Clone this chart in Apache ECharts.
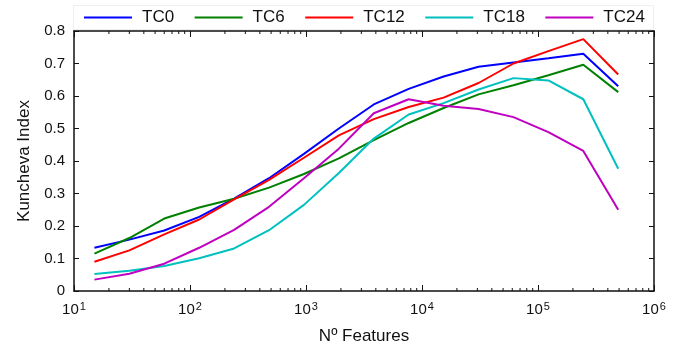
<!DOCTYPE html>
<html>
<head>
<meta charset="utf-8">
<script src="https://cdn.jsdelivr.net/npm/echarts@6/dist/echarts.min.js"></script>
<style>
  html, body { margin: 0; padding: 0; background: #fff; }
  #chart { width: 683px; height: 350px; }
</style>
</head>
<body>
<div id="chart"></div>
<script>
// feature counts (x) and Kuncheva index per time window
const features = [15, 30, 60, 120, 240, 480, 960, 1920, 3840, 7680, 15360, 30720, 61440, 122880, 245760, 491520];
const tc0  = [0.133, 0.158, 0.186, 0.228, 0.284, 0.347, 0.422, 0.500, 0.574, 0.622, 0.660, 0.690, 0.703, 0.716, 0.730, 0.630];
const tc6  = [0.115, 0.163, 0.223, 0.257, 0.284, 0.318, 0.360, 0.408, 0.464, 0.517, 0.563, 0.605, 0.633, 0.664, 0.696, 0.612];
const tc12 = [0.090, 0.125, 0.174, 0.220, 0.282, 0.342, 0.410, 0.479, 0.529, 0.566, 0.595, 0.640, 0.700, 0.738, 0.775, 0.666];
const tc18 = [0.052, 0.062, 0.077, 0.101, 0.131, 0.187, 0.265, 0.363, 0.469, 0.543, 0.578, 0.620, 0.655, 0.648, 0.590, 0.376];
const tc24 = [0.035, 0.053, 0.084, 0.133, 0.188, 0.259, 0.347, 0.438, 0.547, 0.590, 0.570, 0.560, 0.535, 0.489, 0.431, 0.250];
const seriesNames = ["TC0", "TC6", "TC12", "TC18", "TC24"];
const seriesValues = [tc0, tc6, tc12, tc18, tc24];
const colors = ["#0000ff", "#008000", "#ff0000", "#00c0c0", "#c000c0"];
const yTicks = [0, 0.1, 0.2, 0.3, 0.4, 0.5, 0.6, 0.7, 0.8];

const font = "Liberation Sans, Arial, sans-serif";

// minor ticks of the log axis: 2..9 x 10^k
const minorTicks = [];
for (let k = 1; k < 6; k++) {
  for (let m = 2; m <= 9; m++) minorTicks.push([m * Math.pow(10, k), 0]);
}

const chart = echarts.init(document.getElementById("chart"), null, { renderer: "canvas" });

const frameLine = { show: true, onZero: false, lineStyle: { color: "#111", width: 1.5 } };

chart.setOption({
  animation: false,
  textStyle: { fontFamily: font },
  color: colors,
  grid: { left: 74, right: 29, top: 31, bottom: 55 },
  graphic: [{
    type: "rect",
    left: 73, top: 5,
    shape: { width: 580, height: 24 },
    style: { fill: "#fff", stroke: "#eeeeee", lineWidth: 1 },
    z: 0
  }],
  legend: {
    data: seriesNames,
    left: 79,
    top: 4,
    itemWidth: 48,
    itemHeight: 16,
    itemGap: 20.5,
    icon: "path://M0,7 L48,7 L48,9 L0,9 Z",
    textStyle: { fontSize: 17, color: "#111", fontFamily: font, width: 45, padding: [0, 0, 0, 5] }
  },
  xAxis: [{
    type: "log",
    logBase: 10,
    min: 10,
    max: 1000000,
    position: "bottom",
    name: "Nº Features",
    nameLocation: "middle",
    nameGap: 37,
    nameTextStyle: { fontSize: 17, color: "#111", fontFamily: font },
    axisLine: frameLine,
    axisTick: { show: true, inside: true, length: 6, lineStyle: { color: "#111", width: 1 } },
    splitLine: { show: false },
    axisLabel: {
      margin: 10,
      color: "#111",
      fontSize: 15,
      fontFamily: font,
      formatter: v => "10{s|" + Math.round(Math.log10(v)) + "}",
      rich: { s: { fontSize: 11, color: "#111", fontFamily: font, padding: [0, 0, 7, 1] } }
    }
  }, {
    type: "log",
    logBase: 10,
    min: 10,
    max: 1000000,
    position: "top",
    axisLine: frameLine,
    axisTick: { show: true, inside: true, length: 6, lineStyle: { color: "#111", width: 1 } },
    axisLabel: { show: false },
    splitLine: { show: false }
  }],
  yAxis: [{
    type: "value",
    min: yTicks[0],
    max: yTicks[yTicks.length - 1],
    interval: 0.1,
    name: "Kuncheva Index",
    nameLocation: "middle",
    nameGap: 41,
    nameTextStyle: { fontSize: 17, color: "#111", fontFamily: font },
    axisLine: frameLine,
    axisTick: { show: true, inside: true, length: 5, lineStyle: { color: "#111", width: 1 } },
    splitLine: { show: false },
    axisLabel: { margin: 9, color: "#111", fontSize: 15, fontFamily: font }
  }, {
    type: "value",
    min: yTicks[0],
    max: yTicks[yTicks.length - 1],
    interval: 0.1,
    position: "right",
    axisLine: frameLine,
    axisTick: { show: true, inside: true, length: 5, lineStyle: { color: "#111", width: 1 } },
    axisLabel: { show: false },
    splitLine: { show: false }
  }],
  series: seriesNames.map((name, i) => ({
    name,
    type: "line",
    data: features.map((f, j) => [f, seriesValues[i][j]]),
    showSymbol: false,
    symbol: "none",
    lineStyle: { width: 2, color: colors[i] },
    itemStyle: { color: colors[i] },
    z: 3
  })).concat([{
    type: "custom",
    name: "minor",
    silent: true,
    clip: false,
    data: minorTicks,
    renderItem: (params, api) => {
      const p = api.coord([api.value(0), 0]);
      const top = params.coordSys.y;
      const bottom = params.coordSys.y + params.coordSys.height;
      const style = { stroke: "#111", lineWidth: 1 };
      return {
        type: "group",
        children: [
          { type: "line", shape: { x1: p[0], y1: bottom, x2: p[0], y2: bottom - 3 }, style },
          { type: "line", shape: { x1: p[0], y1: top, x2: p[0], y2: top + 3 }, style }
        ]
      };
    },
    z: 1
  }])
});
</script>
</body>
</html>
